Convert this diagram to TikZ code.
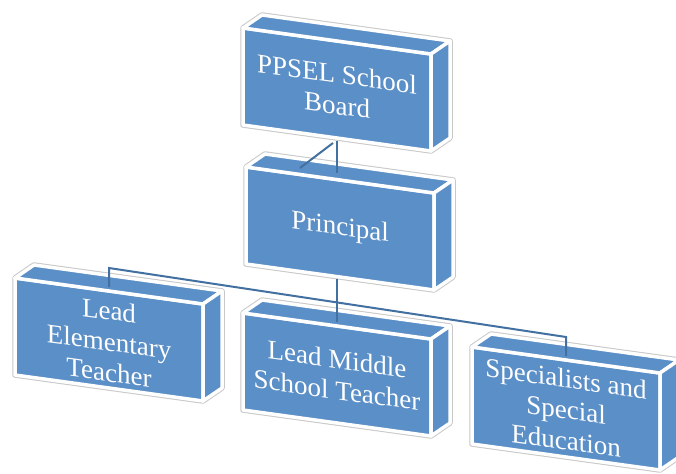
\documentclass[tikz,border=0pt]{standalone}
\usepackage{fontspec}
\setmainfont{Liberation Serif}
\definecolor{boxblue}{RGB}{91,143,199}
\definecolor{linkblue}{RGB}{66,112,160}
\definecolor{halogray}{RGB}{200,200,200}
\tikzset{
  halo/.style={draw=halogray,fill=white,line width=5.5pt,line join=round},
  face/.style={fill=boxblue,draw=white,line width=3.5pt,line join=round},
  boxtext/.style={text=white,align=center,inner sep=0pt,yslant=-0.138,
    font=\fontsize{27}{31}\selectfont},
  link/.style={draw=linkblue,line width=2pt}
}
\newcommand\tdbox[5]{%
  \begin{scope}[shift={(#2,#3)}]
    \path[halo] (0,0) -- (19,-13) -- (207,13) -- (207,110) -- (188,123) -- (0,97) -- cycle;
    \path[face] (0,0) -- (188,26) -- (188,123) -- (0,97) -- cycle;
    \path[face] (0,0) -- (19,-13) -- (207,13) -- (188,26) -- cycle;
    \path[face] (188,26) -- (207,13) -- (207,110) -- (188,123) -- cycle;
    \node[boxtext] (#1) at (94,#5) {#4};
    \coordinate (#1-top) at (94,9);
    \coordinate (#1-bot) at (94,112.5);
  \end{scope}}
\begin{document}
\begin{tikzpicture}[x=1pt,y=-1pt]
\useasboundingbox (0,0) rectangle (676,473);
\clip (0,0) rectangle (676,473);
\fill[white] (0,0) rectangle (676,473);
\tdbox{b1}{243}{28}{PPSEL School\\Board}{61.5}
\tdbox{b2}{246}{167}{Principal}{61.5}
\tdbox{b3}{15}{278}{Lead\\Elementary\\Teacher}{63.5}
\tdbox{b4}{243}{313}{Lead Middle\\School Teacher}{61.5}
\tdbox{b5}{472}{347}{Specialists and\\Special\\Education}{62.5}
% connectors
\coordinate (j1) at (337,141);
\coordinate (j2) at (337,173);
\coordinate (j3) at (333,143);
\coordinate (j4) at (300,168);
\coordinate (busl) at (109,268);
\coordinate (busr) at (566,337);
\coordinate (b2-out) at (337,279);
\coordinate (b4-in) at (337,322);
\path[link] (j1) -- (j2);
\path[link] (j3) -- (j4);
\path[link] (b3-top) -- (busl) -- (busr) -- (b5-top);
\path[link] (b2-out) -- (b4-in);
\end{tikzpicture}
\end{document}
